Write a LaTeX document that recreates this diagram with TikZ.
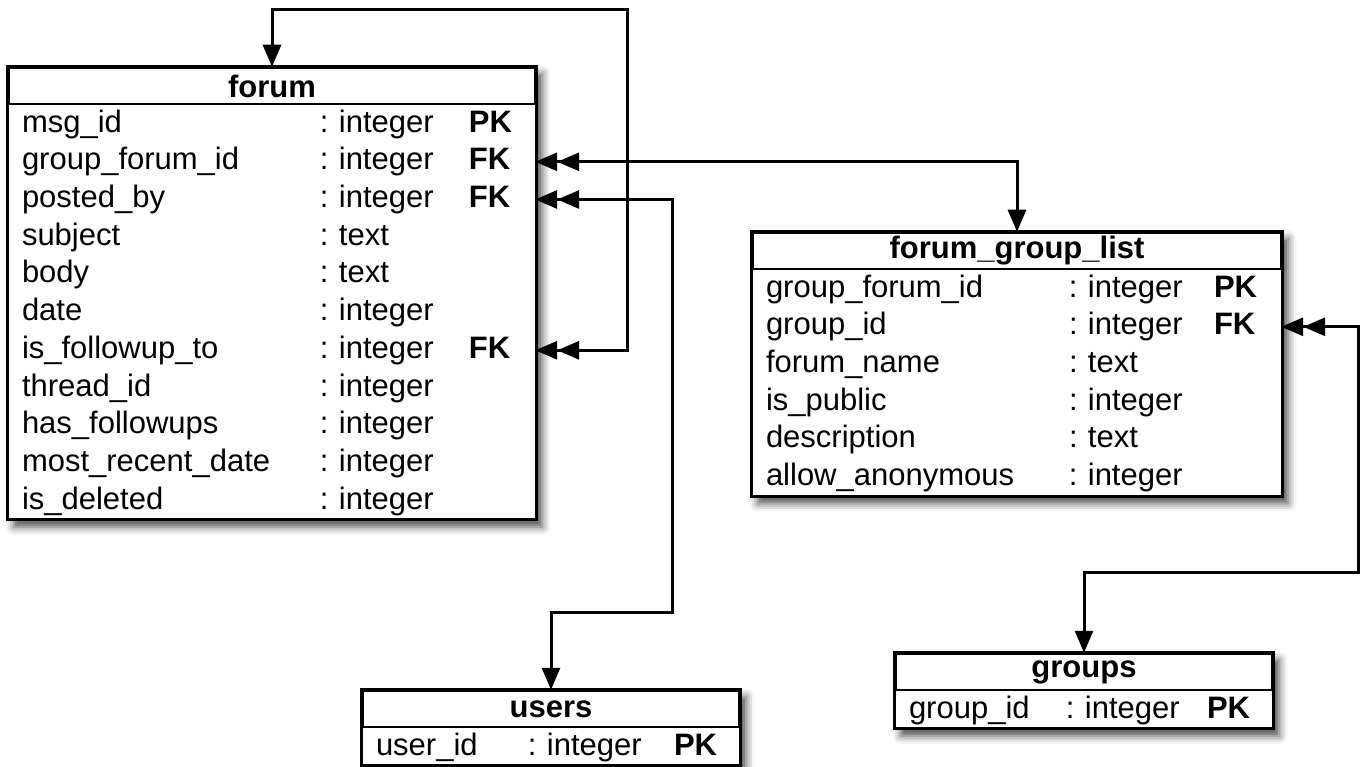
\documentclass[tikz,border=0pt]{standalone}
\usepackage{fontspec}
\setmainfont{Liberation Sans}
\usetikzlibrary{arrows.meta,positioning,fit,backgrounds,shadows.blur}
\frenchspacing
\newlength{\colname}
\newlength{\coltype}
\newcommand{\field}[3]{\makebox[\colname][l]{#1}\makebox[\coltype][l]{#2}\textbf{#3}}
\tikzset{
  thead/.style  = {draw, line width=2.5pt, minimum height=36pt, inner sep=0pt,
                   font=\fontsize{31}{36}\selectfont\bfseries},
  trow/.style   = {minimum height=37.3pt, inner xsep=13pt, inner ysep=0pt,
                   align=left, font=\fontsize{31}{36}\selectfont},
  tframe/.style = {draw, line width=3pt, fill=white, inner sep=0pt,
                   blur shadow={shadow xshift=6pt, shadow yshift=-7pt,
                                shadow blur radius=8pt, shadow opacity=70}},
  rel/.style    = {line width=3pt, line join=miter,
                   {Triangle[length=22pt,width=18pt]}-{Triangle[length=22pt,width=18pt]Triangle[length=22pt,width=18pt]}}
}

\begin{document}
\begin{tikzpicture}[x=1pt,y=-1pt]
  \useasboundingbox (0,0) rectangle (1366,767);

  % forum
  \node[thead, minimum width=526pt] (forum) at (272,86) {forum};
  \setlength{\colname}{298pt}\setlength{\coltype}{149pt}
  \node[trow, text width=500pt, below=0pt of forum]   (forum-1)  {\field{msg\_id}{: integer}{PK}};
  \node[trow, text width=500pt, below=0pt of forum-1] (forum-2)  {\field{group\_forum\_id}{: integer}{FK}};
  \node[trow, text width=500pt, below=0pt of forum-2] (forum-3)  {\field{posted\_by}{: integer}{FK}};
  \node[trow, text width=500pt, below=0pt of forum-3] (forum-4)  {\field{subject}{: text}{}};
  \node[trow, text width=500pt, below=0pt of forum-4] (forum-5)  {\field{body}{: text}{}};
  \node[trow, text width=500pt, below=0pt of forum-5] (forum-6)  {\field{date}{: integer}{}};
  \node[trow, text width=500pt, below=0pt of forum-6] (forum-7)  {\field{is\_followup\_to}{: integer}{FK}};
  \node[trow, text width=500pt, below=0pt of forum-7] (forum-8)  {\field{thread\_id}{: integer}{}};
  \node[trow, text width=500pt, below=0pt of forum-8] (forum-9)  {\field{has\_followups}{: integer}{}};
  \node[trow, text width=500pt, below=0pt of forum-9] (forum-10) {\field{most\_recent\_date}{: integer}{}};
  \node[trow, text width=500pt, below=0pt of forum-10](forum-11) {\field{is\_deleted}{: integer}{}};

  % forum_group_list
  \node[thead, minimum width=528pt] (fgl) at (1017,251) {forum\_group\_list};
  \setlength{\colname}{303pt}\setlength{\coltype}{145pt}
  \node[trow, text width=502pt, below=0pt of fgl]   (fgl-1) {\field{group\_forum\_id}{: integer}{PK}};
  \node[trow, text width=502pt, below=0pt of fgl-1] (fgl-2) {\field{group\_id}{: integer}{FK}};
  \node[trow, text width=502pt, below=0pt of fgl-2] (fgl-3) {\field{forum\_name}{: text}{}};
  \node[trow, text width=502pt, below=0pt of fgl-3] (fgl-4) {\field{is\_public}{: integer}{}};
  \node[trow, text width=502pt, below=0pt of fgl-4] (fgl-5) {\field{description}{: text}{}};
  \node[trow, text width=502pt, below=0pt of fgl-5] (fgl-6) {\field{allow\_anonymous}{: integer}{}};

  % users
  \node[thead, minimum width=376pt] (users) at (551,709) {users};
  \setlength{\colname}{152pt}\setlength{\coltype}{146pt}
  \node[trow, text width=350pt, below=0pt of users] (users-1) {\field{user\_id}{: integer}{PK}};

  % groups
  \node[thead, minimum width=376pt] (groups) at (1084,672) {groups};
  \setlength{\colname}{157pt}\setlength{\coltype}{141pt}
  \node[trow, text width=350pt, below=0pt of groups] (groups-1) {\field{group\_id}{: integer}{PK}};

  \begin{scope}[on background layer]
    \node[tframe, fit=(forum)(forum-11)]   (forum-box)  {};
    \node[tframe, fit=(fgl)(fgl-6)]        (fgl-box)    {};
    \node[tframe, fit=(users)(users-1)]    (users-box)  {};
    \node[tframe, fit=(groups)(groups-1)]  (groups-box) {};
  \end{scope}

  % relations
  \coordinate (selfloop) at (627,10);
  \coordinate (userbend) at (672,612);
  \coordinate (groupbend) at (1358,572);
  \draw[rel] (forum.north) |- (selfloop) |- (forum-7.east);
  \draw[rel] (fgl.north) |- (forum-2.east);
  \draw[rel] (users.north) |- (userbend) |- (forum-3.east);
  \draw[rel] (groups.north) |- (groupbend) |- (fgl-2.east);
\end{tikzpicture}
\end{document}
